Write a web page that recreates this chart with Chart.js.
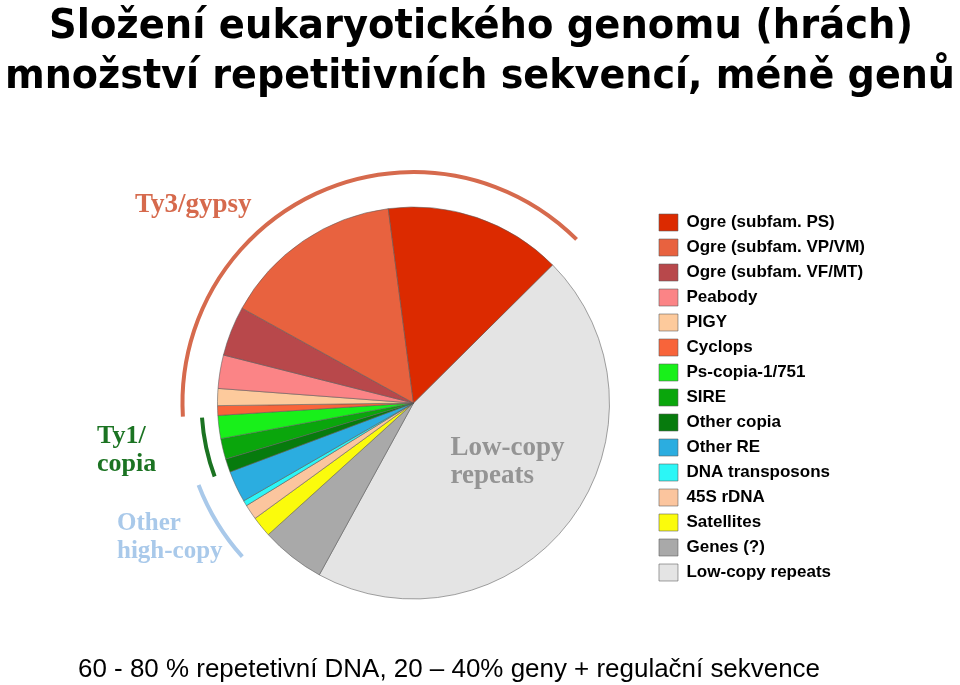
<!DOCTYPE html>
<html>
<head>
<meta charset="utf-8">
<script src="https://cdn.jsdelivr.net/npm/chart.js@4"></script>
<style>
  html, body { margin: 0; padding: 0; background: #fff; }
  #wrap { width: 960px; height: 685px; }
</style>
</head>
<body>
<div id="wrap"><canvas id="genome-chart"></canvas></div>
<script>
// ---- Data (legend order, % of genome)
const categories = [
	'Ogre (subfam. PS)', 'Ogre (subfam. VP/VM)', 'Ogre (subfam. VF/MT)',
	'Peabody', 'PIGY', 'Cyclops', 'Ps-copia-1/751', 'SIRE', 'Other copia',
	'Other RE', 'DNA transposons', '45S rDNA', 'Satellites', 'Genes (?)',
	'Low-copy repeats'
];
const shares = [
	14.6, 14.9, 4.1, 2.75, 1.4, 0.8, 1.9, 1.7, 1.1,
	2.6, 0.45, 1.25, 1.7, 5.3, 45.4
];
const colours = [
	'#dc2a00', '#e8623f', '#b8484b', '#fb8486', '#fdca9c', '#f8643a',
	'#18f01a', '#0aa60c', '#077b0d', '#2bade0', '#2cf6f6', '#fbc59e',
	'#fbfb0c', '#a9a9a9', '#e4e4e4'
];

// groups drawn as arcs round the pie
const groups = [
	{ text: [ 'Ty3/gypsy' ], from: 'Ogre (subfam. PS)', to: 'Cyclops', colour: '#d66a4d', gap: 35, textX: 135, textY: 212, size: 27 },
	{ text: [ 'Ty1/', 'copia' ], from: 'Ps-copia-1/751', to: 'Other copia', colour: '#1b7322', gap: 16, textX: 97, textY: 443, size: 26 },
	{ text: [ 'Other', 'high-copy' ], from: 'Other RE', to: 'Satellites', colour: '#a9c9ea', gap: 34, textX: 117, textY: 530, size: 25 }
];

const titleLines = [ 'Složení eukaryotického genomu (hrách)', 'množství repetitivních sekvencí, méně genů' ];
const footNote = '60 - 80 % repetetivní DNA, 20 – 40% geny + regulační sekvence';

// pie runs counter-clockwise in the picture, chart.js goes clockwise
const revLabels = categories.slice().reverse();
const revData = shares.slice().reverse();
const revColours = colours.slice().reverse();

// ---- Plugin: titles, group arcs and labels
const decorations = {
	id: 'decorations',
	afterDatasetsDraw( chart ) {
		const ctx = chart.ctx;
		const meta = chart.getDatasetMeta( 0 );
		const first = meta.data[ 0 ];
		const cx = first.x;
		const cy = first.y;
		const r = first.outerRadius;

		ctx.save();
		groups.forEach( ( g ) => {
			const a = meta.data[ revLabels.indexOf( g.from ) ];
			const b = meta.data[ revLabels.indexOf( g.to ) ];
			const start = Math.min( a.startAngle, b.startAngle );
			const end = Math.max( a.endAngle, b.endAngle );
			ctx.beginPath();
			ctx.arc( cx, cy, r + g.gap, start + 0.005, end - 0.005 );
			ctx.strokeStyle = g.colour;
			ctx.lineWidth = 4;
			ctx.lineCap = 'butt';
			ctx.stroke();

			ctx.fillStyle = g.colour;
			ctx.font = 'bold ' + g.size + 'px "Liberation Serif", "Times New Roman", serif';
			ctx.textAlign = 'left';
			ctx.textBaseline = 'alphabetic';
			g.text.forEach( ( line, i ) => {
				ctx.fillText( line, g.textX, g.textY + i * 28 );
			} );
		} );

		// text inside the low-copy slice
		ctx.fillStyle = '#949494';
		ctx.font = 'bold 27px "Liberation Serif", "Times New Roman", serif';
		ctx.fillText( 'Low-copy', cx + 37, cy + 52 );
		ctx.fillText( 'repeats', cx + 37, cy + 80 );

		// heading
		ctx.fillStyle = '#000';
		ctx.textAlign = 'center';
		ctx.font = 'bold 41px "Comic Sans MS", "DejaVu Sans", sans-serif';
		ctx.fillText( titleLines[ 0 ], 481, 38, 864 );
		ctx.fillText( titleLines[ 1 ], 480, 88, 950 );

		// bottom line
		ctx.textAlign = 'left';
		ctx.font = '26px "Liberation Sans", Arial, sans-serif';
		ctx.fillText( footNote, 78, 677, 742 );
		ctx.restore();
	}
};

const genomeChart = new Chart( document.getElementById( 'genome-chart' ), {
	type: 'pie',
	data: {
		labels: revLabels,
		datasets: [ {
			data: revData,
			backgroundColor: revColours,
			borderColor: 'rgba(90,90,90,0.7)',
			borderWidth: 0.8
		} ]
	},
	options: {
		responsive: true,
		maintainAspectRatio: false,
		animation: false,
		rotation: 45.2,
		radius: 196,
		layout: {
			padding: { left: 176, right: 85, top: 206, bottom: 85 }
		},
		plugins: {
			title: { display: false },
			tooltip: { enabled: false },
			legend: {
				position: 'right',
				align: 'start',
				reverse: true,
				labels: {
					boxWidth: 19,
					boxHeight: 17,
					padding: 8,
					color: '#000',
					font: { family: '"Liberation Sans", Arial, sans-serif', size: 17, weight: 'bold' }
				}
			}
		}
	},
	plugins: [ decorations ]
} );
</script>
</body>
</html>
